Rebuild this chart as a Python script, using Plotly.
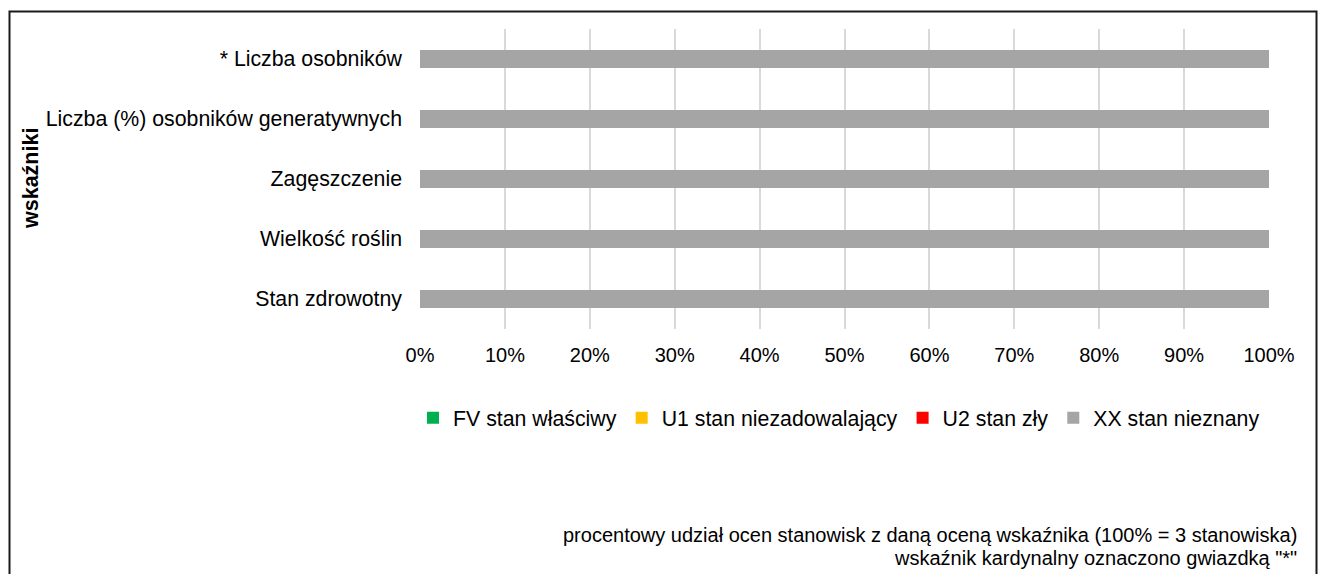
import plotly.graph_objects as go

# Indicators (top to bottom) and share of site assessments per status, in %
categories = [
    "* Liczba osobników",
    "Liczba (%) osobników generatywnych",
    "Zagęszczenie",
    "Wielkość roślin",
    "Stan zdrowotny",
]
fv_values = [0, 0, 0, 0, 0]
u1_values = [0, 0, 0, 0, 0]
u2_values = [0, 0, 0, 0, 0]
xx_values = [100, 100, 100, 100, 100]

series_names = ["FV stan właściwy", "U1 stan niezadowalający", "U2 stan zły", "XX stan nieznany"]
series_values = [fv_values, u1_values, u2_values, xx_values]
series_colors = ["#00B050", "#FFC000", "#FF0000", "#A5A5A5"]

tick_values = list(range(0, 101, 10))
tick_labels = [f"{v}%" for v in tick_values]

FONT = "Liberation Sans, Arial, sans-serif"
W, H = 1319, 574
L, R, T, B = 420, 50, 29, 245
PW, PH = W - L - R, H - T - B


def px_x(p):
    return (p - L) / PW


def px_y(p):
    return (H - B - p) / PH


fig = go.Figure()
for name, vals, col in zip(series_names, series_values, series_colors):
    fig.add_trace(go.Bar(
        y=categories, x=vals, name=name, orientation="h",
        marker=dict(color=col, line=dict(width=0)),
    ))

fig.update_layout(
    width=W, height=H,
    margin=dict(l=L, r=R, t=T, b=B, autoexpand=False),
    paper_bgcolor="white", plot_bgcolor="white",
    barmode="stack", bargap=0.7,
    font=dict(family=FONT, size=20, color="#000000"),
    showlegend=True,
    legend=dict(
        orientation="h", x=px_x(839), xanchor="center",
        y=px_y(418), yanchor="middle",
        font=dict(family=FONT, size=21.3, color="#000000"),
        itemclick=False, traceorder="normal",
    ),
    xaxis=dict(
        range=[0, 100], tickvals=tick_values, ticktext=tick_labels,
        showgrid=True, gridcolor="#D9D9D9", gridwidth=2,
        zeroline=False, showline=False, ticks="",
        ticklabelstandoff=12, fixedrange=True,
        tickfont=dict(family=FONT, size=20),
    ),
    yaxis=dict(
        categoryorder="array", categoryarray=categories[::-1],
        showgrid=False, zeroline=False, showline=False, ticks="",
        ticklabelstandoff=17, fixedrange=True,
        tickfont=dict(family=FONT, size=21.3),
    ),
    annotations=[
        dict(text="<b>wskaźniki</b>", textangle=-90,
             xref="paper", yref="paper", x=px_x(31), y=px_y(179),
             xanchor="center", yanchor="middle", showarrow=False,
             font=dict(family=FONT, size=21.5, color="#000000")),
        dict(text="procentowy udział ocen stanowisk z daną oceną wskaźnika (100% = 3 stanowiska)",
             xref="paper", yref="paper", x=px_x(1299), y=px_y(535),
             xanchor="right", yanchor="middle", showarrow=False,
             font=dict(family=FONT, size=20, color="#000000")),
        dict(text="wskaźnik kardynalny oznaczono gwiazdką \"*\"",
             xref="paper", yref="paper", x=px_x(1299), y=px_y(558),
             xanchor="right", yanchor="middle", showarrow=False,
             font=dict(family=FONT, size=20, color="#000000")),
    ],
    shapes=[
        dict(type="rect", xref="paper", yref="paper",
             x0=px_x(9.5), x1=px_x(1316.5), y0=px_y(590), y1=px_y(11.5),
             line=dict(color="#1A1A1A", width=2), fillcolor="rgba(0,0,0,0)",
             layer="above"),
    ],
)

fig.write_html("out.html")
